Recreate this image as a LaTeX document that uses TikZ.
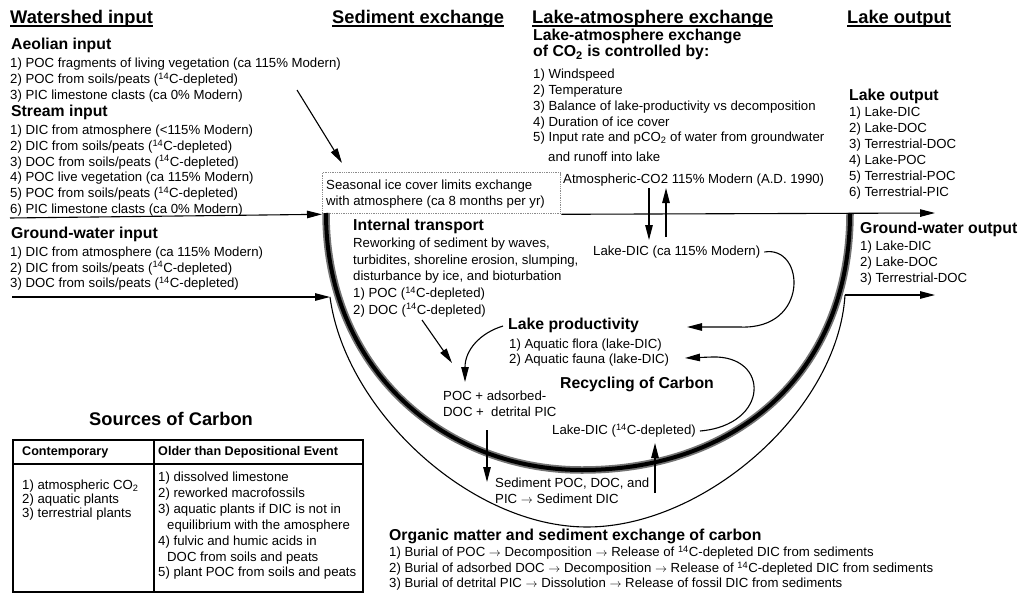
\documentclass[tikz,border=0pt]{standalone}
\usepackage{fontspec}
\setmainfont{Liberation Sans}
\usetikzlibrary{arrows.meta}
\begin{document}
\begin{tikzpicture}[x=1pt,y=-1pt,
  every node/.style={inner sep=0pt, anchor=west, text height=.72em, text depth=0pt},
  tt/.style={font=\fontsize{18.3}{20}\selectfont\bfseries},
  hd/.style={font=\fontsize{15.8}{18}\selectfont\bfseries},
  bd/.style={font=\fontsize{13.2}{16}\selectfont},
  th/.style={font=\fontsize{12.6}{15}\selectfont\bfseries},
  arr/.style={line width=1.1pt, -{Triangle[length=15pt,width=7.5pt]}},
  thin/.style={line width=1.1pt},
  uline/.style={line width=1.4pt},
  band/.style={line width=7.5pt, black!55},
  bandcore/.style={line width=4pt, black},
  icebox/.style={draw=black!45, densely dotted, line width=1.3pt, minimum width=238pt, minimum height=41pt, anchor=north west, text height=, text depth=},
  tbl/.style={line width=1.5pt}
]
\useasboundingbox (0,0) rectangle (1019,594);
% ---- titles
\node[tt] (T1) at (10,19.5) {Watershed input};
\node[tt] (T2) at (332,19.5) {Sediment exchange};
\node[tt] (T3) at (532,19.5) {Lake-atmosphere exchange};
\node[tt] (T4) at (847,19.5) {Lake output};
\foreach \t in {T1,T2,T3,T4}
  \draw[uline] ([yshift=-2.6pt]\t.south west) -- ([yshift=-2.6pt]\t.south east);
% ---- Aeolian
\node[hd] (ae) at (11,46) {Aeolian input};
\node[bd] (ae1) at (10,64) {1) POC fragments of living vegetation (ca 115\% Modern)};
\node[bd] (ae2) at (10,80) {2) POC from soils/peats (\textsuperscript{14}C-depleted)};
\node[bd] (ae3) at (10,96) {3) PIC limestone clasts (ca 0\% Modern)};
% ---- Stream
\node[hd] (st) at (11,113) {Stream input};
\node[bd] (st1) at (10,131) {1) DIC from atmosphere (<115\% Modern)};
\node[bd] (st2) at (10,147) {2) DIC from soils/peats (\textsuperscript{14}C-depleted)};
\node[bd] (st3) at (10,162.5) {3) DOC from soils/peats (\textsuperscript{14}C-depleted)};
\node[bd] (st4) at (10,178) {4) POC live vegetation (ca 115\% Modern)};
\node[bd] (st5) at (10,194) {5) POC from soils/peats (\textsuperscript{14}C-depleted)};
\node[bd] (st6) at (10,209.5) {6) PIC limestone clasts (ca 0\% Modern)};
% ---- Ground-water input
\node[hd] (gw) at (11,235) {Ground-water input};
\node[bd] (gw1) at (10,253) {1) DIC from atmosphere (ca 115\% Modern)};
\node[bd] (gw2) at (10,268.5) {2) DIC from soils/peats (\textsuperscript{14}C-depleted)};
\node[bd] (gw3) at (10,284) {3) DOC from soils/peats (\textsuperscript{14}C-depleted)};
% ---- ice box
\node[icebox] (ice) at (322,172) {};
\node[bd] (ic1) at (326,186) {Seasonal ice cover limits exchange};
\node[bd] (ic2) at (326,202) {with atmosphere (ca 8 months per yr)};
% ---- Lake-atmosphere
\node[hd] (la) at (533,37) {Lake-atmosphere exchange};
\node[hd] (lb) at (533,53) {of CO\textsubscript{2} is controlled by:};
\node[bd] (la1) at (533,75) {1) Windspeed};
\node[bd] (la2) at (533,90.5) {2) Temperature};
\node[bd] (la3) at (533,106.5) {3) Balance of lake-productivity vs decomposition};
\node[bd] (la4) at (533,122.5) {4) Duration of ice cover};
\node[bd] (la5) at (533,138) {5) Input rate and pCO\textsubscript{2} of water from groundwater};
\node[bd] (la6) at (548,158) {and runoff into lake};
\node[bd] (atm) at (563,180) {Atmospheric-CO2 115\% Modern (A.D. 1990)};
% ---- Lake output
\node[hd] (lo) at (849,97) {Lake output};
\node[bd] (lo1) at (849,113) {1) Lake-DIC};
\node[bd] (lo2) at (849,129) {2) Lake-DOC};
\node[bd] (lo3) at (849,145) {3) Terrestrial-DOC};
\node[bd] (lo4) at (849,161) {4) Lake-POC};
\node[bd] (lo5) at (849,177) {5) Terrestrial-POC};
\node[bd] (lo6) at (849,193) {6) Terrestrial-PIC};
% ---- Ground-water output
\node[hd] (go) at (860,230) {Ground-water output};
\node[bd] (go1) at (860,247) {1) Lake-DIC};
\node[bd] (go2) at (860,263) {2) Lake-DOC};
\node[bd] (go3) at (860,279) {3) Terrestrial-DOC};
% ---- Internal transport
\node[hd] (it) at (353,227) {Internal transport};
\node[bd] (it1) at (353,244) {Reworking of sediment by waves,};
\node[bd] (it2) at (353,260.5) {turbidites, shoreline erosion, slumping,};
\node[bd] (it3) at (353,277) {disturbance by ice, and bioturbation};
\node[bd] (it4) at (353,294) {1) POC (\textsuperscript{14}C-depleted)};
\node[bd] (it5) at (353,310.5) {2) DOC (\textsuperscript{14}C-depleted)};
% ---- lake interior
\node[bd] (ld) at (593,252) {Lake-DIC (ca 115\% Modern)};
\node[hd] (lp) at (508,326) {Lake productivity};
\node[bd] (lp1) at (509,345) {1) Aquatic flora (lake-DIC)};
\node[bd] (lp2) at (509,360) {2) Aquatic fauna (lake-DIC)};
\node[hd] (rc) at (560,385) {Recycling of Carbon};
\node[bd] (pc1) at (443,397) {POC + adsorbed-};
\node[bd] (pc2) at (443,413) {DOC +\ \ detrital PIC};
\node[bd] (ld2) at (552,431) {Lake-DIC (\textsuperscript{14}C-depleted)};
\node[bd] (sd1) at (495,484) {Sediment POC, DOC, and};
\node[bd] (sd2) at (495,500) {PIC $\rightarrow$ Sediment DIC};
% ---- organic matter
\node[hd] (om) at (389,537) {Organic matter and sediment exchange of carbon};
\node[bd] (om1) at (389,553) {1) Burial of POC $\rightarrow$ Decomposition $\rightarrow$ Release of \textsuperscript{14}C-depleted DIC from sediments};
\node[bd] (om2) at (389,569) {2) Burial of adsorbed DOC $\rightarrow$ Decomposition $\rightarrow$ Release of \textsuperscript{14}C-depleted DIC from sediments};
\node[bd] (om3) at (389,584) {3) Burial of detrital PIC $\rightarrow$ Dissolution $\rightarrow$ Release of fossil DIC from sediments};
% ---- Sources of carbon table
\node[tt] (sc) at (89,422) {Sources of Carbon};
\draw[tbl] (13,440) rectangle (363,592);
\draw[tbl] (13,464) -- (363,464);
\draw[tbl] (154,440) -- (154,592);
\node[th] (c0) at (22,452) {Contemporary};
\node[th] (o0) at (158,452) {Older than Depositional Event};
\node[bd] (c1) at (22,486) {1) atmospheric CO\textsubscript{2}};
\node[bd] (c2) at (22,500) {2) aquatic plants};
\node[bd] (c3) at (22,514) {3) terrestrial plants};
\node[bd] (o1) at (158,478) {1) dissolved limestone};
\node[bd] (o2) at (158,494) {2) reworked macrofossils};
\node[bd] (o3) at (158,510) {3) aquatic plants if DIC is not in};
\node[bd] (o3b) at (167,526) {equilibrium with the amosphere};
\node[bd] (o4) at (158,542) {4) fulvic and humic acids in};
\node[bd] (o4b) at (167,558) {DOC from soils and peats};
\node[bd] (o5) at (158,573) {5) plant POC from soils and peats};
% ---- lake basin
\draw[band] (326,213) .. controls (326,370) and (445,470) .. (582,470)
            .. controls (740,470) and (850,370) .. (850,213);
\draw[bandcore] (326,213) .. controls (326,370) and (445,470) .. (582,470)
            .. controls (740,470) and (850,370) .. (850,213);
\coordinate (gwin) at (330,297);
\coordinate (gwout) at (845,295);
\draw[thin] (gwin) .. controls (345,410) and (470,527) .. (587,527)
            .. controls (705,527) and (838,410) .. (gwout);
% ---- connectors
\coordinate (aeS) at (297,90);
\coordinate (aeE) at (342,163);
\draw[arr] (aeS) -- (aeE);
\coordinate (stS) at (10,218);
\draw[arr] (stS) -- (ice.south west);
\coordinate (gwS) at (12,297);
\draw[arr] (gwS) -- (gwin);
\coordinate (loE) at (935,213);
\draw[arr] (ice.south east) -- (loE);
\coordinate (goE) at (935,295);
\draw[arr] (gwout) -- (goE);
\coordinate (dnS) at (649,188);
\coordinate (dnE) at (649,240);
\draw[arr] (dnS) -- (dnE);
\coordinate (upS) at (666,237);
\coordinate (upE) at (666,188);
\draw[arr] (upS) -- (upE);
% lake-DIC loop to productivity
\coordinate (lpE) at (687,327);
\draw[arr] ([xshift=4pt]ld.east) .. controls (805,245) and (810,330) .. (740,327) -- (lpE);
% recycle loop to fauna
\coordinate (lfE) at (685,358);
\draw[arr] ([xshift=4pt]ld2.east) .. controls (770,425) and (770,355) .. (712,357) -- (lfE);
% productivity to POC
\coordinate (pcT) at (465,382);
\draw[arr] ([xshift=-5pt]lp.west) .. controls (480,333) and (465,350) .. (pcT);
% internal transport to POC
\coordinate (itS) at (422,320);
\coordinate (itE) at (452,363);
\draw[arr] (itS) -- (itE);
% burial and release
\coordinate (buS) at (487,430);
\coordinate (buE) at (487,482);
\draw[arr] (buS) -- (buE);
\coordinate (reS) at (655,493);
\coordinate (reE) at (655,443);
\draw[arr] (reS) -- (reE);
\end{tikzpicture}
\end{document}
